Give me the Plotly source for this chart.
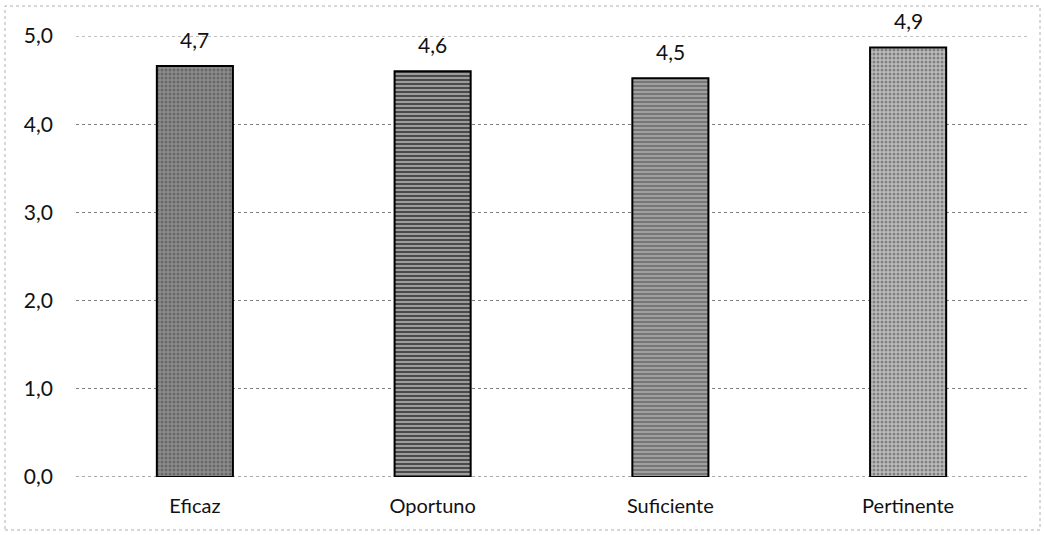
import plotly.graph_objects as go

categories = ["Eficaz", "Oportuno", "Suficiente", "Pertinente"]
values = [4.66, 4.60, 4.52, 4.87]
y_ticks = [0, 1, 2, 3, 4, 5]
y_tick_labels = ["0,0", "1,0", "2,0", "3,0", "4,0", "5,0"]

bg_colors = ["#8c8c8c", "#4a4a4a", "#a0a0a0", "#bdbdbd"]
fg_colors = ["#2a2a2a", "#9a9a9a", "#555555", "#555555"]
shapes = [".", "-", "-", "."]

W, H = 1045, 535
ml, mr, mt, mb = 76, 18, 36, 58
pw, ph = W - ml - mr, H - mt - mb

FONT = "Lato, Open Sans, sans-serif"

fig = go.Figure()

# edge gridlines (plotly clips gridlines at the range ends)
fig.add_hline(y=y_ticks[-1], line=dict(color="#808080", width=1, dash="dot"), layer="below")
fig.add_hline(y=y_ticks[0], line=dict(color="#555555", width=1, dash="dot"), layer="below")

fig.add_trace(go.Bar(
    x=categories,
    y=values,
    marker=dict(
        color=bg_colors,
        line=dict(color="#000000", width=2),
        pattern=dict(shape=shapes, fgcolor=fg_colors, bgcolor=bg_colors,
                     size=4, solidity=0.45, fillmode="overlay"),
    ),
    width=0.32,
    cliponaxis=False,
    hoverinfo="skip",
))

for c, v in zip(categories, values):
    fig.add_annotation(
        x=c, y=v, text=f"{v:.1f}".replace(".", ","),
        showarrow=False, yanchor="bottom", yshift=12,
        font=dict(family=FONT, size=21, color="#111111"),
    )

def px2paper_x(p):
    return (p - ml) / pw

def px2paper_y(p):
    return (H - mb - p) / ph

fig.add_shape(
    type="rect", xref="paper", yref="paper",
    x0=px2paper_x(5), x1=px2paper_x(1040), y0=px2paper_y(530), y1=px2paper_y(6),
    line=dict(color="#b0b0b0", width=1, dash="dot"), layer="below",
)

fig.update_layout(
    width=W, height=H,
    margin=dict(l=ml, r=mr, t=mt, b=mb),
    plot_bgcolor="white", paper_bgcolor="white",
    showlegend=False,
    font=dict(family=FONT, size=20, color="#111111"),
    bargap=0.68,
)
fig.update_xaxes(
    showgrid=False, showline=False,
    ticks="", ticklabelstandoff=15, tickfont=dict(family=FONT, size=20),
)
fig.update_yaxes(
    range=[0, 5], tickvals=y_ticks, ticktext=y_tick_labels,
    showgrid=True, gridcolor="#808080", gridwidth=1, griddash="dot",
    zeroline=False, showline=False, ticks="",
    ticklabelstandoff=22, tickfont=dict(family=FONT, size=21),
)

fig.write_html("out.html")
